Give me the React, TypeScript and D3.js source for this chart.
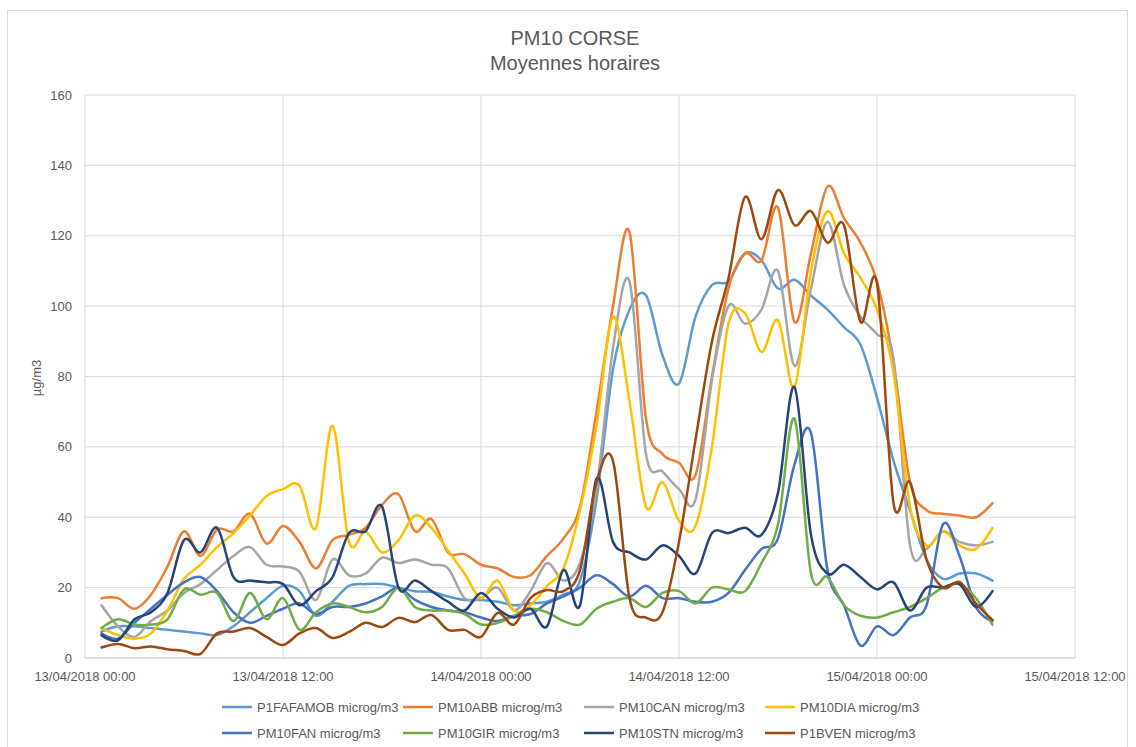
import React from 'react';
import * as d3 from 'd3';

const TITLE = 'PM10 CORSE';
const SUBTITLE = 'Moyennes horaires';
const Y_TITLE = 'µg/m3';

const X_START = new Date(2018, 3, 13, 0, 0);
const X_END = new Date(2018, 3, 15, 12, 0);
const X_TICK_LABELS = [
  '13/04/2018 00:00',
  '13/04/2018 12:00',
  '14/04/2018 00:00',
  '14/04/2018 12:00',
  '15/04/2018 00:00',
  '15/04/2018 12:00',
];
const Y_TICKS = [0, 20, 40, 60, 80, 100, 120, 140, 160];

// hourly measurements, 13/04/2018 01:00 .. 15/04/2018 07:00
const HOURS = d3.range(1, 56);

const P1FAFAMOB = [7.5, 9, 9, 8.5, 8, 7.5, 7, 6.5, 9, 13, 17, 20.5, 19, 12, 16, 20.5, 21, 21, 20, 19, 18.8, 17.5, 16.5, 16.5, 16, 15, 15.5, 16, 18, 22, 45, 82, 99, 103, 86, 78, 97, 106, 107, 115, 113, 105, 107.5, 103, 99, 94, 89, 74, 56, 42, 28, 22.5, 24, 24, 22];
const PM10ABB = [17, 17, 14, 18, 26, 36, 29, 36.5, 36, 41, 32.5, 37.5, 33, 25.5, 33.5, 35, 37, 43.5, 46.5, 36, 39.5, 30, 29.5, 26.5, 25.5, 23, 23.5, 29, 34, 43, 70, 100, 121, 68, 58, 55.5, 52, 80, 105, 115, 113, 128, 95.5, 115, 134, 125, 118, 107, 84, 50, 42, 41, 40.5, 40, 44];
const PM10CAN = [15, 9, 6, 10.5, 13.5, 18.5, 21, 25, 29, 31.5, 26.5, 26, 24.5, 16.5, 28, 23.5, 24, 28.5, 27, 28, 26.5, 25.5, 17, 17, 20, 13.5, 19, 27, 22, 27, 48, 88, 107, 58, 53, 48, 45, 79, 100, 95, 99, 110, 83, 105, 124, 106, 97, 92, 85, 32, 31, 36, 33, 32, 33];
const PM10DIA = [8.5, 6.5, 5.5, 7, 13.5, 22.5, 26.5, 31.5, 35.5, 40.5, 46, 48, 49, 37, 66, 33, 36, 30, 33.5, 40.5, 37, 30.5, 24, 17, 22, 13.5, 15, 20.5, 25.5, 42, 66, 97, 73, 43, 50, 39, 37.5, 60, 95, 98, 87, 96, 77, 110, 127, 115, 108, 99, 81, 43, 32, 36, 32, 31, 37];
const PM10FAN = [7, 5.5, 10, 14, 18, 21.5, 23, 19, 13, 10, 12, 14, 15.5, 12.5, 14.5, 14.5, 15.5, 17.5, 20, 16.5, 14.5, 13.5, 13, 11.5, 10.5, 12, 12.5, 15.5, 17.5, 20, 23.5, 21, 17.5, 20.5, 17, 17, 16, 16, 18.5, 25, 31, 34, 55, 64, 25, 15, 3.5, 9, 6.5, 11.5, 15, 38, 29, 14.5, 10.5];
const PM10GIR = [8.5, 11, 9.5, 9.5, 11, 19.5, 18, 18.5, 10.5, 18.5, 11, 17, 8, 13, 15.5, 14.5, 13, 14.5, 20, 14.5, 13.5, 13.5, 12.5, 9.5, 10, 12, 14, 13, 10.5, 9.5, 14, 16, 17, 14.5, 18.5, 19, 15.5, 20, 19.5, 19, 27, 38, 68, 24, 23, 15, 12, 11.5, 13, 14.5, 17, 20, 21, 17, 9.5];
const PM10STN = [6.5, 5, 11, 13, 18.5, 33.5, 30, 37, 23, 22, 21.5, 21, 15, 19, 23, 35.5, 36, 43, 20, 22, 19, 16, 13.5, 18.5, 14, 11.5, 14, 9, 25, 15, 51, 33, 30, 28, 32, 29, 24, 35.5, 35.5, 37, 35, 47, 77, 35, 24, 26.5, 23, 19.5, 21.5, 13.5, 20, 20, 21, 14.5, 19];
const P1BVEN = [3, 4, 2.8, 3.3, 2.5, 2, 1.2, 7, 7.5, 8.5, 6, 3.7, 7, 8.5, 5.7, 7.4, 10, 8.8, 11.4, 10.2, 12.2, 8, 8, 6, 12.8, 9.5, 17, 19.3, 19, 25, 50, 56, 17, 11.5, 13, 33, 62, 90, 108, 131, 119, 133, 123, 127, 118, 123, 95.5, 106.5, 44, 50, 28, 20, 21.6, 15.5, 10.8];

const SERIES_NAMES = [
  'P1FAFAMOB microg/m3',
  'PM10ABB microg/m3',
  'PM10CAN microg/m3',
  'PM10DIA microg/m3',
  'PM10FAN microg/m3',
  'PM10GIR microg/m3',
  'PM10STN microg/m3',
  'P1BVEN microg/m3',
];
const SERIES_VALUES = [P1FAFAMOB, PM10ABB, PM10CAN, PM10DIA, PM10FAN, PM10GIR, PM10STN, P1BVEN];
const SERIES_COLORS = ['#5B9BD5', '#ED7D31', '#A5A5A5', '#FFC000', '#4472C4', '#70AD47', '#264478', '#9E480E'];

const W = 1136;
const H = 747;
const FONT = "'Liberation Sans', Arial, sans-serif";
const TEXT = '#595959';
const GRID = '#D9D9D9';

export default function App() {
  const x = d3.scaleTime().domain([X_START, X_END]).range([85, 1075]);
  const y = d3.scaleLinear().domain([0, 160]).range([658, 95]);
  const xTicks = d3.timeHour.every(12)!.range(X_START, d3.timeHour.offset(X_END, 1));
  const times = HOURS.map((h) => d3.timeHour.offset(X_START, h));

  const line = d3
    .line<number>()
    .x((_, i) => x(times[i]))
    .y((v) => y(v))
    .curve(d3.curveCatmullRom.alpha(0));

  const legendCols = [222, 403, 584, 765];
  const legendRows = [707, 733];

  return (
    <svg
      width={W}
      height={H}
      style={{ position: 'absolute', left: 0, top: 0, background: '#fff' }}
      fontFamily={FONT}
    >
      <rect x={0} y={0} width={W} height={H} fill="#fff" />
      <rect x={7.5} y={10.5} width={1120} height={745} fill="none" stroke={GRID} strokeWidth={1} />

      <text x={575} y={45} textAnchor="middle" fontSize={20} fill={TEXT}>
        {TITLE}
      </text>
      <text x={575} y={70} textAnchor="middle" fontSize={20} fill={TEXT}>
        {SUBTITLE}
      </text>

      {Y_TICKS.map((t) => (
        <g key={'y' + t}>
          <line x1={85} x2={1075} y1={y(t)} y2={y(t)} stroke={t === 0 ? '#BFBFBF' : GRID} strokeWidth={1} />
          <text x={72} y={y(t) + 4.5} textAnchor="end" fontSize={13} fill={TEXT}>
            {t}
          </text>
        </g>
      ))}
      {xTicks.map((d, i) => (
        <g key={'x' + i}>
          <line x1={x(d)} x2={x(d)} y1={95} y2={658} stroke={GRID} strokeWidth={1} />
          <text x={x(d)} y={681} textAnchor="middle" fontSize={13} fill={TEXT}>
            {X_TICK_LABELS[i]}
          </text>
        </g>
      ))}

      <text
        transform={`translate(41, 378) rotate(-90)`}
        textAnchor="middle"
        fontSize={13}
        fill={TEXT}
      >
        {Y_TITLE}
      </text>

      {SERIES_VALUES.map((vals, i) => (
        <path
          key={SERIES_NAMES[i]}
          d={line(vals) || ''}
          fill="none"
          stroke={SERIES_COLORS[i]}
          strokeWidth={2.5}
          strokeLinejoin="round"
          strokeLinecap="round"
        />
      ))}

      {SERIES_NAMES.map((name, i) => {
        const lx = legendCols[i % 4];
        const ly = legendRows[Math.floor(i / 4)];
        return (
          <g key={'leg' + i}>
            <line x1={lx} x2={lx + 30} y1={ly} y2={ly} stroke={SERIES_COLORS[i]} strokeWidth={2.5} />
            <text x={lx + 35} y={ly + 4.5} fontSize={13} fill={TEXT}>
              {name}
            </text>
          </g>
        );
      })}
    </svg>
  );
}
